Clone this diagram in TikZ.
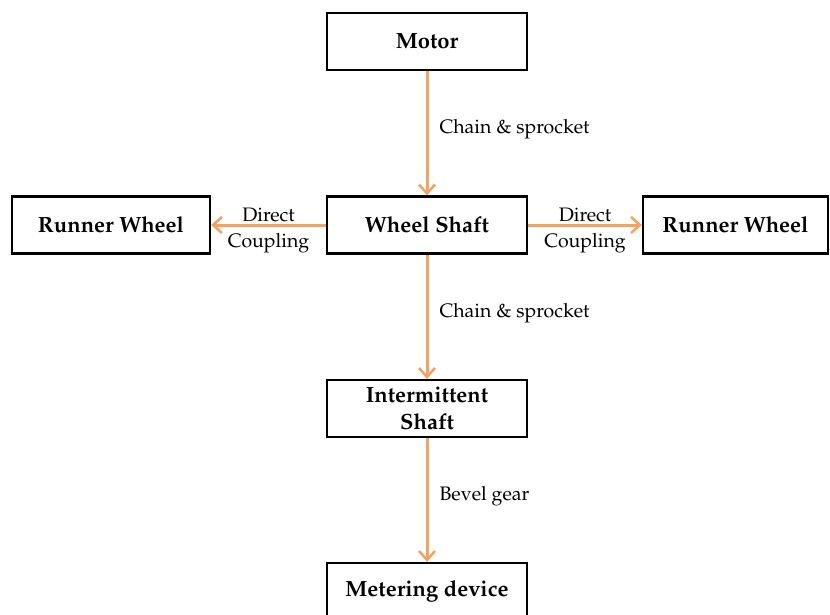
\documentclass[tikz,border=0pt]{standalone}
\usepackage[T1]{fontenc}
\usepackage{mathpazo}
\usetikzlibrary{arrows.meta}
\definecolor{driveorange}{RGB}{244,162,97}
\tikzset{
  unitbox/.style={draw=black, line width=2.2pt, minimum width=200pt, minimum height=57pt,
    inner sep=0pt, font=\fontsize{22}{26}\selectfont\bfseries, align=center},
  drive/.style={draw=driveorange, line width=3pt, -{Straight Barb[length=9pt,width=16pt,line width=2.5pt]}},
  lbl/.style={font=\fontsize{19.5}{26}\selectfont, align=center, inner sep=0pt}
}
\begin{document}
\begin{tikzpicture}[x=1pt,y=-1pt]
  \useasboundingbox[fill=white] (0,0) rectangle (830,615);
  % units
  \node[unitbox] (motor) at (427,41.5) {Motor};
  \node[unitbox] (shaft) at (427,225) {Wheel Shaft};
  \node[unitbox, minimum width=198pt] (runnerL) at (111,225) {Runner Wheel};
  \node[unitbox, minimum width=185pt] (runnerR) at (735.5,225) {Runner Wheel};
  \node[unitbox, font=\fontsize{22}{27}\selectfont\bfseries] (inter) at (427,408.5) {Intermittent\\Shaft};
  \node[unitbox] (meter) at (427,591.5) {Metering device};
  % drives
  \draw[drive] (motor) -- node[lbl, pos=0.47, anchor=west, xshift=11pt] {Chain \& sprocket} (shaft);
  \draw[drive] (shaft) -- node[lbl, pos=0.47, anchor=west, xshift=11pt] {Chain \& sprocket} (inter);
  \draw[drive] (inter) -- node[lbl, pos=0.47, anchor=west, xshift=11pt] {Bevel gear} (meter);
  \draw[drive] (shaft) -- node[lbl, yshift=-5pt] {Direct\\Coupling} (runnerL);
  \draw[drive] (shaft) -- node[lbl, yshift=-5pt] {Direct\\Coupling} (runnerR);
\end{tikzpicture}
\end{document}
